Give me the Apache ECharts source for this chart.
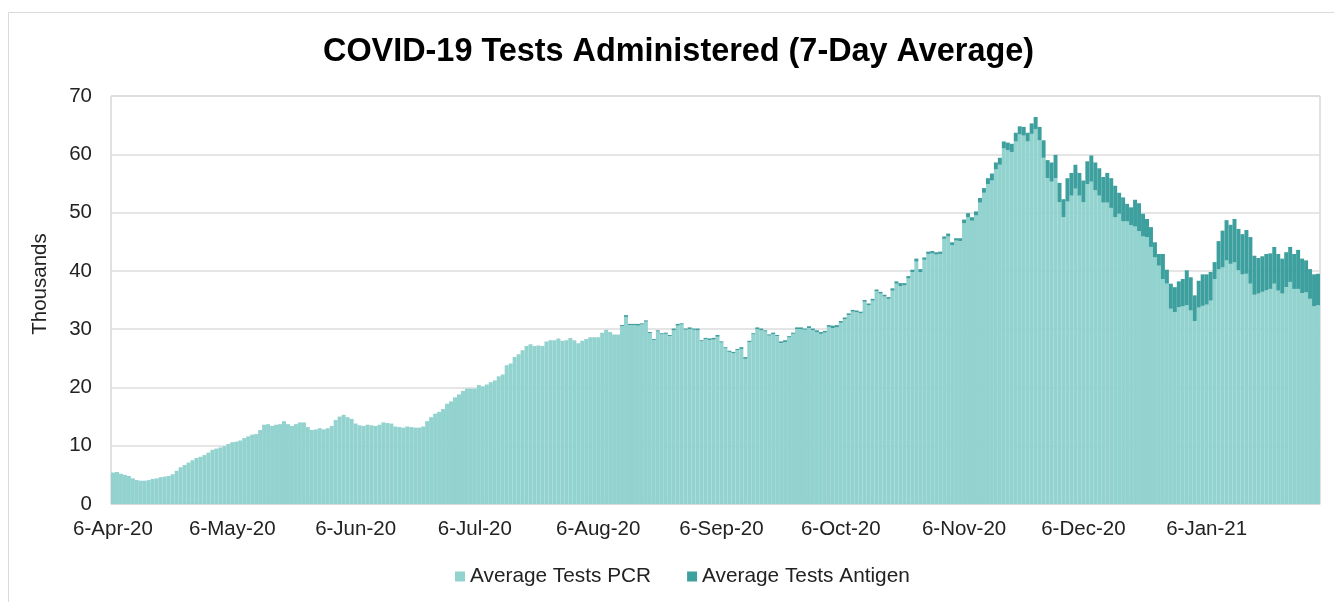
<!DOCTYPE html>
<html>
<head>
<meta charset="utf-8">
<script src="https://cdn.jsdelivr.net/npm/echarts@6/dist/echarts.min.js"></script>
<style>
  html, body { margin: 0; padding: 0; background: #fff; }
  #main { width: 1334px; height: 602px; }
</style>
</head>
<body>
<div id="main"></div>
<script>
// 7-day average, in thousands, one value per day from 6-Apr-20
var pcrApr = [5.4, 5.5, 5.2, 5.0, 4.8, 4.4, 4.1, 4.0, 4.0, 4.1, 4.3, 4.4, 4.6, 4.7, 4.8, 5.1, 5.7, 6.3, 6.7, 7.1, 7.5, 7.9, 8.1, 8.4, 8.8];
var pcrMay = [9.3, 9.5, 9.7, 9.9, 10.3, 10.6, 10.7, 10.9, 11.3, 11.6, 11.9, 12.0, 12.7, 13.6, 13.7, 13.4, 13.6, 13.7, 14.2, 13.7, 13.4, 13.7, 14.0, 14.0, 13.2, 12.7, 12.8, 13.0, 12.8, 13.0, 13.4];
var pcrJun = [14.4, 15.0, 15.3, 14.9, 14.6, 13.8, 13.5, 13.4, 13.6, 13.5, 13.4, 13.6, 14.0, 13.9, 13.8, 13.3, 13.2, 13.1, 13.3, 13.2, 13.1, 13.1, 13.3, 14.2, 14.9, 15.5, 15.8, 16.3, 17.2, 17.6];
var pcrJul = [18.3, 18.8, 19.4, 19.8, 19.8, 19.8, 20.4, 20.2, 20.5, 20.9, 21.2, 21.9, 22.2, 23.8, 24.1, 25.2, 25.7, 26.4, 27.1, 27.4, 27.1, 27.2, 27.1, 27.9, 28.1, 28.1, 28.4, 28.0, 28.1, 28.5, 28.1];
var pcrAug = [27.6, 28.0, 28.3, 28.6, 28.6, 28.6, 29.4, 29.9, 29.5, 29.1, 29.1, 30.5, 32.1, 30.7, 30.7, 30.6, 30.8, 31.3, 29.3, 28.1, 29.6, 29.1, 29.2, 28.8, 29.8, 30.6, 30.8, 29.9, 30.0, 29.9, 29.8];
var pcrSep = [27.9, 28.3, 28.1, 28.2, 28.7, 27.7, 26.7, 26.1, 25.9, 26.4, 26.6, 24.9, 27.8, 29.1, 30.0, 29.8, 29.6, 28.9, 29.1, 28.8, 27.6, 27.8, 28.6, 29.2, 30.0, 30.0, 29.9, 30.2, 29.8, 29.5];
var pcrOct = [29.2, 29.4, 30.4, 30.2, 30.3, 31.1, 31.7, 32.4, 33.0, 32.9, 32.7, 34.7, 34.1, 34.9, 36.5, 36.1, 35.6, 35.2, 36.6, 37.8, 37.4, 37.5, 38.7, 39.8, 41.6, 39.8, 41.9, 42.9, 43.0, 42.8, 42.9];
var pcrNov = [45.5, 45.9, 44.4, 45.2, 45.1, 48.2, 49.2, 48.6, 49.5, 51.7, 53.4, 54.9, 55.5, 57.4, 58.2, 61.0, 60.7, 60.4, 62.2, 63.4, 63.2, 62.2, 63.5, 64.3, 62.4, 59.4, 55.9, 55.3, 55.9, 51.8];
var pcrDec = [49.2, 51.9, 52.9, 54.1, 52.9, 51.8, 54.9, 55.3, 53.8, 52.9, 51.7, 51.7, 50.8, 49.2, 49.8, 48.5, 48.5, 47.8, 47.6, 46.8, 45.9, 45.8, 44.1, 42.3, 40.9, 38.6, 37.8, 33.5, 32.9, 33.8, 33.9];
var pcrJan = [34.1, 33.2, 31.4, 33.7, 34.0, 34.2, 34.9, 38.6, 40.3, 40.6, 41.8, 41.2, 41.5, 40.1, 39.4, 39.5, 37.8, 35.9, 36.1, 36.4, 36.7, 36.9, 37.8, 36.6, 36.1, 37.2, 38.1, 36.9, 36.9, 36.2, 36.3];
var pcrFeb = [35.2, 33.9, 34.1];

var antigenAprJul = 117; // no antigen tests reported before mid August
var antigenAug = [0, 0, 0, 0, 0, 0, 0, 0, 0, 0, 0, 0.2, 0.3, 0.2, 0.2, 0.3, 0.2, 0.2, 0.2, 0.2, 0.2, 0.2, 0.2, 0.2, 0.3, 0.3, 0.2, 0.2, 0.3, 0.2, 0.3];
var antigenSep = [0.2, 0.2, 0.3, 0.3, 0.3, 0.2, 0.2, 0.2, 0.2, 0.2, 0.3, 0.3, 0.2, 0.2, 0.3, 0.3, 0.2, 0.2, 0.3, 0.2, 0.3, 0.3, 0.2, 0.2, 0.3, 0.3, 0.2, 0.3, 0.3, 0.3];
var antigenOct = [0.3, 0.3, 0.3, 0.4, 0.4, 0.3, 0.3, 0.3, 0.3, 0.3, 0.3, 0.3, 0.3, 0.3, 0.3, 0.3, 0.3, 0.3, 0.4, 0.4, 0.5, 0.4, 0.4, 0.4, 0.5, 0.5, 0.4, 0.4, 0.4, 0.4, 0.4];
var antigenNov = [0.4, 0.5, 0.5, 0.4, 0.5, 0.6, 0.7, 0.6, 0.7, 0.8, 0.8, 1.0, 1.2, 1.2, 1.2, 1.2, 1.3, 1.4, 1.5, 1.4, 1.5, 1.5, 1.8, 2.1, 2.3, 3.0, 3.1, 3.3, 4.0, 3.3];
var antigenDec = [3.1, 4.0, 3.9, 4.1, 3.9, 3.7, 3.9, 4.5, 4.8, 4.7, 4.4, 5.1, 5.1, 5.4, 3.6, 4.1, 3.0, 3.1, 4.6, 4.8, 3.9, 3.1, 3.4, 2.6, 2.0, 4.3, 2.4, 4.3, 4.3, 4.4, 4.7];
var antigenJan = [6.0, 5.7, 4.4, 4.6, 5.4, 5.2, 4.9, 2.9, 4.8, 6.3, 6.9, 6.7, 7.4, 7.1, 6.9, 7.5, 8.0, 6.7, 6.1, 6.1, 6.2, 6.1, 6.3, 6.3, 6.0, 6.0, 6.0, 6.0, 6.7, 5.9, 5.5];
var antigenFeb = [5.1, 5.5, 5.4];

var tickLabels = ['6-Apr-20', '6-May-20', '6-Jun-20', '6-Jul-20', '6-Aug-20', '6-Sep-20', '6-Oct-20', '6-Nov-20', '6-Dec-20', '6-Jan-21'];

var pcr = [].concat(pcrApr, pcrMay, pcrJun, pcrJul, pcrAug, pcrSep, pcrOct, pcrNov, pcrDec, pcrJan, pcrFeb);
var antigen = [];
for (var k = 0; k < antigenAprJul; k++) antigen.push(0);
antigen = antigen.concat(antigenAug, antigenSep, antigenOct, antigenNov, antigenDec, antigenJan, antigenFeb);

// one category per day, labelled like 6-Apr-20
var monthNames = ['Jan', 'Feb', 'Mar', 'Apr', 'May', 'Jun', 'Jul', 'Aug', 'Sep', 'Oct', 'Nov', 'Dec'];
var startDay = Date.UTC(2020, 3, 6);
var days = [];
for (var i = 0; i < pcr.length; i++) {
  var d = new Date(startDay + i * 86400000);
  days.push(d.getUTCDate() + '-' + monthNames[d.getUTCMonth()] + '-' + String(d.getUTCFullYear()).slice(2));
}

function isTick(index, value) {
  return tickLabels.indexOf(value) >= 0;
}

var font = 'Liberation Sans, Arial, sans-serif';
var chart = echarts.init(document.getElementById('main'));

chart.setOption({
  animation: false,
  textStyle: { fontFamily: font },
  title: {
    text: 'COVID-19 Tests Administered (7-Day Average)',
    left: 318,
    top: 31,
    textStyle: { fontFamily: font, fontSize: 32.4, fontWeight: 'bold', color: '#000' }
  },
  legend: {
    left: 450,
    top: 561,
    icon: 'rect',
    itemWidth: 10,
    itemHeight: 10,
    itemGap: 36,
    textStyle: { fontFamily: font, fontSize: 20.8, color: '#222' },
    data: ['Average Tests PCR', 'Average Tests Antigen']
  },
  grid: {
    left: 111,
    right: 14,
    top: 96,
    bottom: 98,
    show: true,
    borderColor: '#c4c4c4',
    borderWidth: 1
  },
  xAxis: {
    type: 'category',
    data: days,
    boundaryGap: true,
    axisLine: { lineStyle: { color: '#d9d9d9', width: 1 } },
    axisTick: { interval: isTick, length: 6, lineStyle: { color: '#c4c4c4' } },
    axisLabel: { interval: isTick, fontFamily: font, fontSize: 20.5, color: '#222', margin: 15 },
    splitLine: { show: false }
  },
  yAxis: {
    type: 'value',
    min: 0,
    max: 70,
    interval: 10,
    axisLine: { show: false },
    axisTick: { show: false },
    axisLabel: { fontFamily: font, fontSize: 20.5, color: '#222', margin: 19 },
    splitLine: { lineStyle: { color: '#dcdcdc', width: 1.5 } }
  },
  series: [
    {
      name: 'Average Tests PCR',
      type: 'bar',
      stack: 'tests',
      data: pcr,
      barCategoryGap: '0%',
      itemStyle: { color: '#92d2cf' }
    },
    {
      name: 'Average Tests Antigen',
      type: 'bar',
      stack: 'tests',
      data: antigen,
      barCategoryGap: '0%',
      itemStyle: { color: '#3ea09e' }
    }
  ],
  graphic: [
    {
      type: 'rect',
      shape: { x: 8.5, y: 12.5, width: 1340, height: 620 },
      style: { fill: 'none', stroke: '#d9d9d9', lineWidth: 1 },
      silent: true
    },
    {
      type: 'text',
      x: 40,
      y: 284,
      rotation: Math.PI / 2,
      style: {
        text: 'Thousands',
        fontFamily: font,
        fontSize: 20.5,
        fill: '#222',
        align: 'center',
        verticalAlign: 'middle'
      }
    }
  ]
});
</script>
</body>
</html>
